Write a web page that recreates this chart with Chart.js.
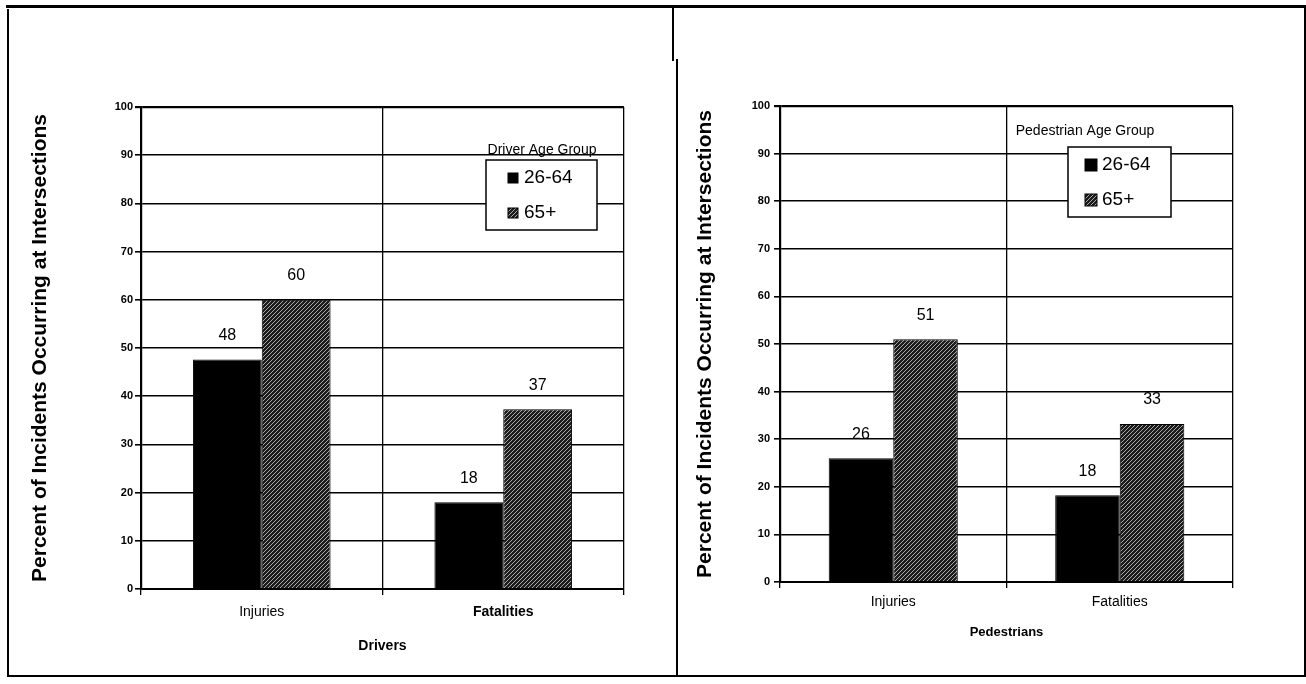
<!DOCTYPE html>
<html lang="en">
<head>
    <meta charset="UTF-8">
    <title>Intersection Incidents by Age Group</title>
    <style>
        body {
            margin: 0;
            background-color: #fff;
            font-family: 'Liberation Sans', Arial, sans-serif;
        }
        .page {
            position: relative;
            width: 1306px;
            height: 684px;
            overflow: hidden;
        }
        .line {
            position: absolute;
            background-color: #000;
        }
        .chart-box {
            position: absolute;
            top: 0;
            height: 684px;
        }
    </style>
</head>
<body>
    <div class="page">
        <!-- frame around the two panels -->
        <div class="line" style="left:6px; top:5px; width:1300px; height:3px;"></div>
        <div class="line" style="left:7px; top:9px; width:2px; height:668px;"></div>
        <div class="line" style="left:7px; top:675px; width:1299px; height:2px;"></div>
        <div class="line" style="left:1304px; top:5px; width:2px; height:672px;"></div>
        <div class="line" style="left:672px; top:5px; width:2px; height:56px;"></div>
        <div class="line" style="left:676px; top:59px; width:2px; height:618px;"></div>

        <div class="chart-box" style="left:0; width:676px;">
            <canvas id="driversChart" width="676" height="684"></canvas>
        </div>
        <div class="chart-box" style="left:676px; width:630px;">
            <canvas id="pedChart" width="630" height="684"></canvas>
        </div>
    </div>

    <script src="https://cdn.jsdelivr.net/npm/chart.js"></script>
    <script>
        // Data
        const categories = ['Injuries', 'Fatalities'];
        const seriesNames = ['26-64', '65+'];
        const driversYoung = [47.6, 18];
        const driversOld = [60, 37.3];
        const pedYoung = [26, 18.2];
        const pedOld = [51, 33.2];
        const yTicks = [0, 10, 20, 30, 40, 50, 60, 70, 80, 90, 100];

        const yTitle = 'Percent of Incidents Occurring at Intersections';
        const FONT = "'Liberation Sans', Arial, sans-serif";
        const NARROW = "'Liberation Sans Narrow', 'Arial Narrow', 'Liberation Sans', sans-serif";

        // hatched fill for the 65+ bars
        function makeHatch() {
            const c = document.createElement('canvas');
            c.width = 4;
            c.height = 4;
            const g = c.getContext('2d');
            g.fillStyle = '#1c1c1c';
            g.fillRect(0, 0, 4, 4);
            g.strokeStyle = '#a8a8a8';
            g.lineWidth = 1;
            g.beginPath();
            g.moveTo(0, 4);
            g.lineTo(4, 0);
            g.stroke();
            return g.createPattern(c, 'repeat');
        }
        const hatch = makeHatch();

        // numbers on top of the bars
        const barLabels = {
            id: 'barLabels',
            afterDatasetsDraw(chart) {
                const ctx = chart.ctx;
                ctx.save();
                ctx.font = '16px ' + FONT;
                ctx.fillStyle = '#000';
                ctx.textAlign = 'center';
                ctx.textBaseline = 'middle';
                chart.data.datasets.forEach((ds, i) => {
                    chart.getDatasetMeta(i).data.forEach((bar, j) => {
                        ctx.fillText(String(Math.round(ds.data[j])), bar.x, bar.y - 24);
                    });
                });
                ctx.restore();
            }
        };

        // boxed legend with a title above it
        const boxLegend = {
            id: 'boxLegend',
            afterDraw(chart, args, o) {
                const ctx = chart.ctx;
                ctx.save();
                ctx.fillStyle = '#000';
                ctx.font = '14px ' + FONT;
                ctx.textAlign = 'center';
                ctx.textBaseline = 'middle';
                ctx.fillText(o.title, o.titleX, o.titleY);

                ctx.fillStyle = '#fff';
                ctx.fillRect(o.x, o.y, o.w, o.h);
                ctx.strokeStyle = '#000';
                ctx.lineWidth = 1.5;
                ctx.strokeRect(o.x, o.y, o.w, o.h);

                chart.data.datasets.forEach((ds, i) => {
                    const cy = o.y + o.rowTop + i * o.rowGap;
                    ctx.fillStyle = ds.backgroundColor;
                    ctx.fillRect(o.swatchX, cy - o.swatch / 2, o.swatch, o.swatch);
                    ctx.lineWidth = 1;
                    ctx.strokeRect(o.swatchX, cy - o.swatch / 2, o.swatch, o.swatch);
                    ctx.fillStyle = '#000';
                    ctx.textAlign = 'left';
                    ctx.font = '19px ' + FONT;
                    ctx.fillText(ds.label, o.textX, cy);
                });
                ctx.restore();
            }
        };

        function buildChart(id, young, old, cfg) {
            const ctx = document.getElementById(id).getContext('2d');
            return new Chart(ctx, {
                type: 'bar',
                data: {
                    labels: categories,
                    datasets: [{
                        label: seriesNames[0],
                        data: young,
                        backgroundColor: '#000',
                        borderColor: '#000',
                        borderWidth: 1
                    }, {
                        label: seriesNames[1],
                        data: old,
                        backgroundColor: hatch,
                        borderColor: '#000',
                        borderWidth: 1
                    }]
                },
                options: {
                    responsive: false,
                    animation: false,
                    categoryPercentage: 0.57,
                    barPercentage: 1.0,
                    layout: {
                        padding: { top: cfg.top, right: cfg.right, bottom: 0, left: 0 }
                    },
                    plugins: {
                        legend: { display: false },
                        tooltip: { enabled: false },
                        boxLegend: cfg.legend
                    },
                    scales: {
                        x: {
                            afterFit: (s) => { s.height = cfg.xHeight; },
                            grid: {
                                offset: true,
                                color: '#000',
                                lineWidth: 1.3,
                                tickLength: 6
                            },
                            border: { display: true, color: '#000', width: 2 },
                            ticks: {
                                color: '#000',
                                padding: cfg.xTickPad,
                                font: cfg.xTickFont
                            },
                            title: {
                                display: true,
                                text: cfg.xTitle,
                                color: '#000',
                                font: cfg.xTitleFont,
                                padding: { top: 0, bottom: cfg.xTitlePad }
                            }
                        },
                        y: {
                            min: 0,
                            max: 100,
                            afterFit: (s) => { s.width = cfg.yWidth; },
                            afterBuildTicks: (s) => { s.ticks = yTicks.map(v => ({ value: v })); },
                            grid: {
                                color: '#000',
                                lineWidth: (c) => c.tick && c.tick.value === 100 ? 2.2 : 1.6,
                                tickLength: 6
                            },
                            border: { display: true, color: '#000', width: 2.2 },
                            ticks: {
                                color: '#000',
                                padding: cfg.yTickPad,
                                font: { family: FONT, size: 11, weight: 'bold' }
                            },
                            title: {
                                display: true,
                                text: yTitle,
                                color: '#000',
                                font: { family: FONT, size: 21, weight: 'bold' },
                                padding: { top: cfg.yTitlePad, bottom: 0 }
                            }
                        }
                    }
                },
                plugins: [barLabels, boxLegend]
            });
        }

        buildChart('driversChart', driversYoung, driversOld, {
            top: 107,
            right: 52,
            xHeight: 95,
            yWidth: 141,
            yTickPad: 2,
            yTitlePad: 27.4,
            xTickPad: 9,
            xTickFont: (c) => c.index === 0
                ? { family: NARROW, size: 14 }
                : { family: FONT, size: 14, weight: 'bold' },
            xTitle: 'Drivers',
            xTitleFont: { family: FONT, size: 14, weight: 'bold' },
            xTitlePad: 29.6,
            legend: {
                title: 'Driver Age Group', titleX: 542, titleY: 150,
                x: 486, y: 160, w: 111, h: 70,
                rowTop: 18, rowGap: 35,
                swatchX: 508, swatch: 10, textX: 524
            }
        });

        buildChart('pedChart', pedYoung, pedOld, {
            top: 106,
            right: 73,
            xHeight: 102,
            yWidth: 104,
            yTickPad: 4,
            yTitlePad: 16.4,
            xTickFont: () => ({ family: FONT, size: 14 }),
            xTickPad: 6,
            xTitle: 'Pedestrians',
            xTitleFont: { family: FONT, size: 13, weight: 'bold' },
            xTitlePad: 43.4,
            legend: {
                title: 'Pedestrian Age Group', titleX: 409, titleY: 131,
                x: 392, y: 147, w: 103, h: 70,
                rowTop: 18, rowGap: 35,
                swatchX: 409, swatch: 12, textX: 426
            }
        });
    </script>
</body>
</html>
